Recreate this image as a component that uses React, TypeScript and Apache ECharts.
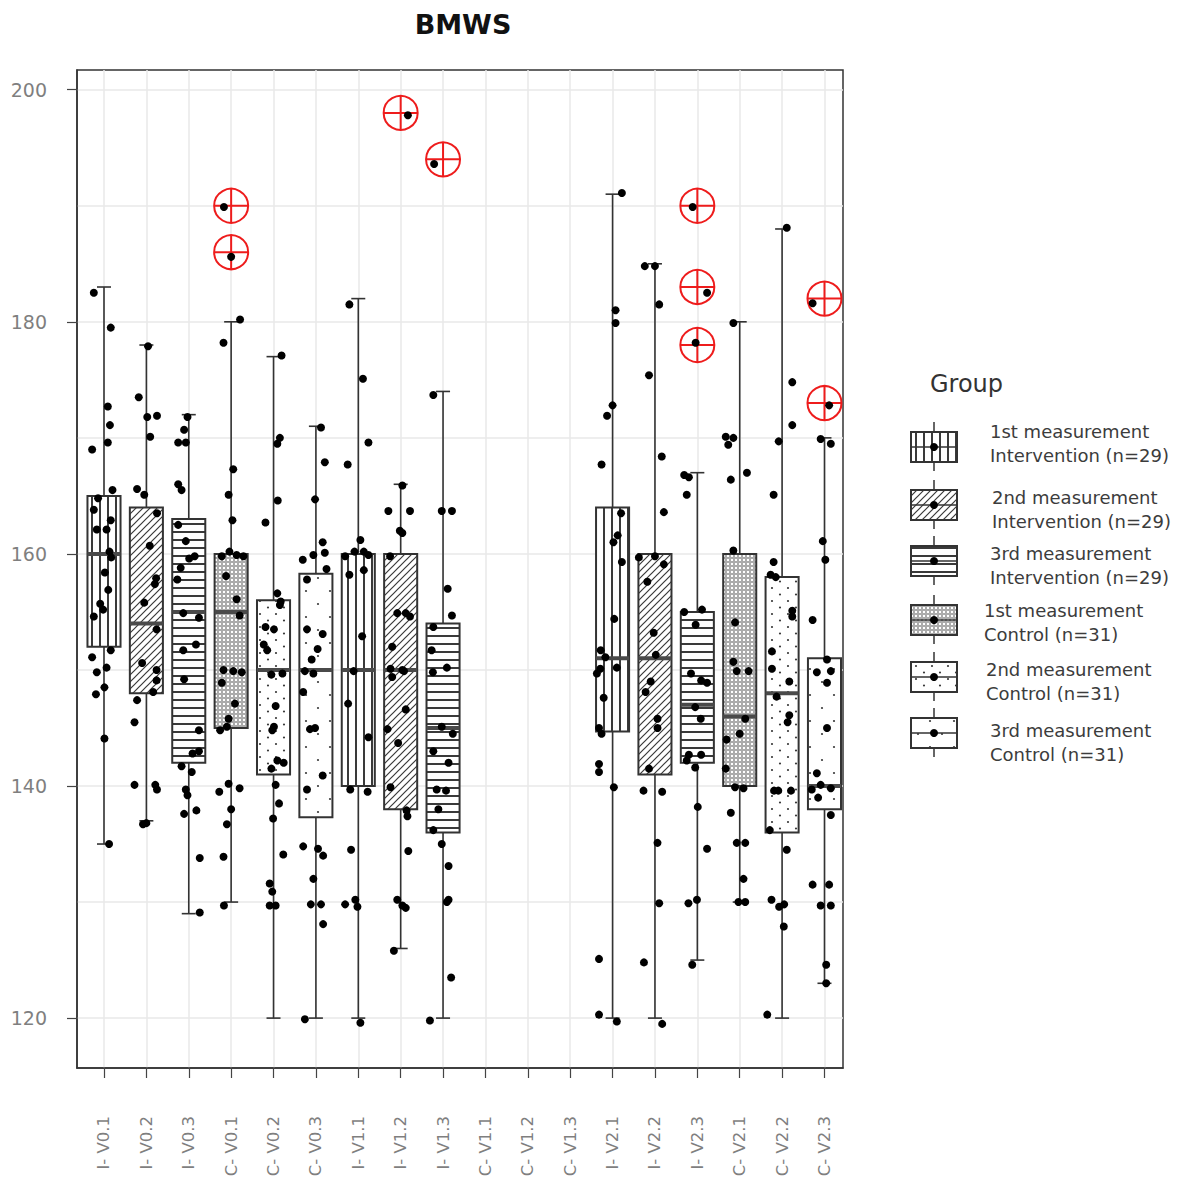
import React, { useEffect, useRef } from 'react';
import * as echarts from 'echarts';

const categories = [
  'I- V0.1', 'I- V0.2', 'I- V0.3', 'C- V0.1', 'C- V0.2', 'C- V0.3',
  'I- V1.1', 'I- V1.2', 'I- V1.3', 'C- V1.1', 'C- V1.2', 'C- V1.3',
  'I- V2.1', 'I- V2.2', 'I- V2.3', 'C- V2.1', 'C- V2.2', 'C- V2.3',
];

// [lower whisker, Q1, median, Q3, upper whisker]
const boxStats: (number[] | null)[] = [
  [135, 152, 160, 165, 183],
  [137, 148, 154, 164, 178],
  [129, 142, 155, 163, 172],
  [130, 145, 155, 160, 180],
  [120, 141, 150, 156, 177],
  [120, 137.3, 150, 158.3, 171],
  [120, 140, 150, 160, 182],
  [126, 138, 150, 160, 166],
  [120, 136, 145, 154, 174],
  null, null, null,
  [120, 144.7, 151, 164, 191],
  [120, 141, 151, 160, 185],
  [125, 142, 147, 155, 167],
  [130, 140, 146, 160, 180],
  [120, 136, 148, 158, 188],
  [123, 138, 140, 151, 170],
];

// individual observations per category: [value, horizontal jitter in category units]
const points: number[][][] = [
  [[182.5, -0.24], [179.5, 0.16], [172.7, 0.09], [171.1, 0.14], [169.6, 0.09], [169.0, -0.28], [165.5, 0.2], [164.8, -0.14], [163.8, -0.24], [162.9, 0.16], [162.1, -0.17], [162.1, 0.06], [160.2, 0.13], [159.7, 0.17], [158.4, 0.02], [156.9, 0.1], [155.7, -0.09], [155.2, -0.02], [154.6, -0.24], [151.7, 0.16], [151.1, -0.28], [150.2, 0.06], [149.8, -0.17], [147.9, -0.19], [148.5, 0.01], [144.1, 0.01], [135.0, 0.12]],
  [[177.9, 0.04], [173.5, -0.18], [171.8, 0.02], [171.9, 0.25], [170.1, 0.09], [165.6, -0.22], [165.1, -0.05], [163.5, 0.25], [160.7, 0.08], [157.9, 0.23], [157.4, 0.2], [155.8, -0.05], [153.5, 0.24], [150.6, -0.1], [150.0, 0.24], [149.1, 0.24], [148.1, 0.16], [147.4, -0.22], [145.5, -0.28], [140.1, -0.28], [140.1, 0.21], [139.7, 0.25], [136.7, -0.08], [136.8, 0.0]],
  [[171.8, -0.03], [170.7, -0.11], [169.6, -0.25], [169.6, -0.07], [166.0, -0.25], [165.5, -0.17], [162.5, -0.25], [161.1, -0.07], [159.6, 0.01], [159.8, 0.14], [158.8, -0.19], [157.8, -0.27], [154.9, -0.13], [154.5, 0.24], [151.7, -0.13], [152.2, 0.17], [149.2, -0.11], [144.8, 0.24], [142.8, 0.09], [143.0, 0.24], [141.7, -0.17], [141.2, 0.07], [139.7, -0.07], [139.2, -0.03], [137.6, -0.11], [137.9, 0.18], [133.8, 0.26], [129.1, 0.26]],
  [[189.9, -0.17], [185.6, 0.0], [180.2, 0.21], [178.2, -0.18], [167.3, 0.05], [165.1, -0.06], [162.9, 0.03], [160.2, -0.04], [159.9, 0.13], [159.8, -0.22], [159.8, 0.29], [158.1, -0.12], [156.1, 0.13], [154.7, 0.2], [150.0, -0.18], [149.9, 0.05], [149.8, 0.25], [148.9, -0.22], [147.1, 0.09], [145.8, -0.06], [144.8, -0.26], [145.1, -0.1], [140.2, -0.06], [139.5, -0.28], [139.8, 0.2], [138.0, 0.0], [136.7, -0.1], [133.9, -0.18], [129.7, -0.17]],
  [[177.1, 0.19], [170.0, 0.15], [169.5, 0.09], [164.6, 0.1], [162.7, -0.19], [156.6, 0.09], [155.9, 0.17], [155.6, 0.15], [153.7, -0.19], [153.5, 0.01], [152.2, -0.23], [151.7, -0.15], [149.6, -0.05], [149.7, 0.21], [146.9, 0.05], [145.1, 0.01], [144.8, -0.03], [142.2, 0.09], [142.0, 0.24], [141.5, -0.05], [140.1, 0.05], [138.5, 0.13], [137.2, -0.01], [134.1, 0.23], [131.6, -0.09], [130.9, -0.03], [129.7, -0.09], [129.7, 0.05]],
  [[170.9, 0.12], [167.9, 0.21], [164.7, -0.02], [161.0, 0.16], [160.1, 0.21], [159.9, -0.06], [159.5, -0.31], [158.7, 0.25], [157.8, -0.21], [153.5, -0.21], [153.1, 0.16], [151.8, 0.04], [150.9, -0.1], [149.9, -0.26], [149.7, -0.06], [148.1, -0.3], [144.9, -0.14], [145.0, -0.02], [140.9, 0.16], [139.7, -0.21], [134.8, -0.3], [134.6, 0.05], [134.0, 0.17], [132.0, -0.06], [129.8, -0.12], [129.8, 0.12], [128.1, 0.17], [119.9, -0.26]],
  [[181.5, -0.21], [175.1, 0.11], [169.6, 0.24], [167.7, -0.25], [161.2, 0.05], [160.2, -0.09], [160.2, 0.13], [159.8, -0.31], [159.9, 0.24], [158.2, -0.21], [158.6, 0.13], [152.9, 0.09], [149.9, -0.11], [147.1, -0.24], [144.2, 0.24], [139.7, -0.19], [139.5, 0.22], [134.5, -0.17], [129.8, -0.31], [130.2, -0.07], [129.6, -0.02], [119.6, 0.05]],
  [[197.8, 0.17], [165.9, 0.04], [163.7, -0.29], [163.7, 0.22], [162.0, -0.02], [161.8, 0.04], [159.8, -0.25], [154.9, -0.08], [154.9, 0.12], [154.6, 0.22], [152.0, -0.2], [150.1, -0.24], [150.0, 0.04], [149.9, 0.08], [149.4, -0.2], [146.6, 0.12], [144.9, -0.31], [143.7, -0.06], [139.9, -0.24], [137.9, 0.14], [137.4, 0.16], [134.4, 0.18], [130.2, -0.08], [129.7, 0.04], [129.5, 0.12], [125.8, -0.16]],
  [[193.6, -0.21], [173.7, -0.23], [163.7, -0.03], [163.7, 0.21], [157.0, 0.11], [154.7, 0.21], [153.7, -0.23], [151.7, -0.27], [149.8, -0.24], [150.2, 0.09], [145.1, -0.03], [144.5, 0.23], [143.0, -0.23], [142.0, 0.13], [139.7, -0.15], [139.6, 0.07], [138.0, -0.11], [136.2, -0.23], [135.0, -0.03], [133.1, 0.13], [130.2, 0.13], [130.0, 0.09], [123.5, 0.19], [119.8, -0.31]],
  [], [], [],
  [[191.1, 0.22], [181.0, 0.07], [179.9, 0.07], [172.8, 0.0], [171.9, -0.13], [167.7, -0.26], [163.5, 0.2], [161.6, 0.12], [161.0, 0.02], [159.3, 0.22], [154.4, 0.04], [151.7, -0.28], [151.1, -0.17], [149.7, -0.37], [150.1, -0.29], [150.2, 0.1], [147.6, -0.21], [145.0, -0.32], [144.5, -0.26], [141.9, -0.32], [141.2, -0.32], [139.9, 0.03], [125.1, -0.32], [120.3, -0.32], [119.7, 0.1]],
  [[184.8, -0.24], [184.8, 0.0], [181.5, 0.1], [175.4, -0.14], [168.4, 0.16], [163.6, 0.21], [159.7, -0.38], [159.8, 0.0], [159.1, 0.21], [157.6, -0.18], [153.2, -0.03], [151.3, 0.02], [149.0, -0.1], [148.1, -0.22], [145.8, 0.06], [145.0, 0.06], [141.5, -0.14], [139.6, -0.27], [139.5, 0.17], [135.1, 0.06], [129.9, 0.1], [124.8, -0.26], [119.5, 0.17]],
  [[189.9, -0.11], [182.5, 0.23], [178.2, -0.04], [166.8, -0.31], [166.6, -0.2], [165.1, -0.25], [155.0, -0.31], [155.2, 0.11], [153.9, -0.04], [149.7, -0.15], [149.1, 0.09], [148.9, 0.23], [146.8, -0.05], [145.8, 0.08], [142.7, -0.2], [142.7, 0.09], [142.2, -0.25], [141.6, -0.05], [138.2, 0.01], [134.6, 0.23], [129.9, -0.21], [130.2, -0.01], [124.6, -0.12]],
  [[179.9, -0.15], [170.1, -0.33], [170.0, -0.15], [169.4, -0.27], [167.0, 0.17], [166.4, -0.21], [160.3, -0.15], [154.1, -0.11], [150.7, -0.15], [149.9, -0.07], [149.9, 0.21], [145.8, 0.13], [144.5, 0.0], [144.0, -0.31], [141.5, -0.33], [139.9, -0.11], [139.8, 0.09], [137.7, -0.21], [135.1, -0.07], [135.1, 0.13], [132.0, 0.09], [130.0, -0.03], [130.0, 0.13]],
  [[188.1, 0.11], [174.8, 0.24], [171.1, 0.24], [169.7, -0.08], [165.1, -0.2], [159.3, -0.2], [158.2, -0.27], [158.0, -0.15], [155.1, 0.24], [154.6, 0.24], [151.6, -0.24], [150.1, -0.24], [149.0, 0.17], [147.7, -0.13], [146.1, 0.17], [145.5, 0.13], [139.6, -0.19], [139.6, -0.09], [139.6, 0.21], [136.2, -0.29], [134.5, 0.11], [130.2, -0.25], [129.6, -0.07], [129.8, 0.05], [127.9, 0.04], [120.3, -0.35]],
  [[181.6, -0.28], [172.8, 0.11], [169.9, -0.09], [169.5, 0.15], [161.1, -0.04], [159.5, 0.02], [154.3, -0.28], [150.9, 0.06], [149.8, -0.18], [149.9, 0.15], [148.9, 0.06], [145.0, 0.06], [141.1, -0.18], [140.1, -0.09], [139.7, -0.3], [139.8, 0.15], [139.0, -0.15], [137.5, 0.15], [131.5, -0.28], [131.5, 0.11], [129.7, -0.09], [129.7, 0.15], [124.6, 0.04], [123.0, 0.04]],
];

// outliers flagged with red crosshair circles: [category index, value]
const outliers = [
  [3, 190], [3, 186], [7, 198], [8, 194],
  [14, 190], [14, 183], [14, 178], [17, 182], [17, 173],
];

const yTickValues = [120, 140, 160, 180, 200];
const gridYValues = [120, 130, 140, 150, 160, 170, 180, 190, 200];

const legendTitle = 'Group';
const legendLabels = [
  '1st measurement\nIntervention (n=29)',
  '2nd measurement\nIntervention (n=29)',
  '3rd measurement\nIntervention (n=29)',
  '1st measurement\nControl (n=31)',
  '2nd measurement\nControl (n=31)',
  '3rd measurement\nControl (n=31)',
];

const FONT = 'DejaVu Sans';

function makePattern(kind: number) {
  const sizes = [[8, 8], [7, 7], [8, 8], [4, 4], [16, 13], [24, 26]];
  const [w, h] = sizes[kind];
  const c = document.createElement('canvas');
  c.width = w;
  c.height = h;
  const ctx = c.getContext('2d')!;
  ctx.fillStyle = '#ffffff';
  ctx.fillRect(0, 0, w, h);
  ctx.fillStyle = '#3a3a3a';
  ctx.strokeStyle = '#3a3a3a';
  if (kind === 0) {
    ctx.fillRect(3, 0, 2, h);
  } else if (kind === 1) {
    ctx.lineWidth = 1.2;
    ctx.beginPath();
    ctx.moveTo(-1, h + 1); ctx.lineTo(w + 1, -1);
    ctx.moveTo(-1, 1); ctx.lineTo(1, -1);
    ctx.moveTo(w - 1, h + 1); ctx.lineTo(w + 1, h - 1);
    ctx.stroke();
  } else if (kind === 2) {
    ctx.fillRect(0, 3, w, 2);
  } else if (kind === 3) {
    ctx.lineWidth = 0.8;
    ctx.strokeStyle = '#555';
    ctx.beginPath();
    ctx.arc(2, 2, 1.3, 0, Math.PI * 2);
    ctx.stroke();
  } else if (kind === 4) {
    ctx.beginPath();
    ctx.arc(4, 3, 1.1, 0, Math.PI * 2);
    ctx.arc(12, 9.5, 1.1, 0, Math.PI * 2);
    ctx.fill();
  } else {
    ctx.beginPath();
    ctx.arc(6, 6, 1.1, 0, Math.PI * 2);
    ctx.fill();
    ctx.beginPath();
    ctx.arc(18, 19, 1.1, 0, Math.PI * 2);
    ctx.fill();
  }
  return { image: c.toDataURL(), repeat: 'repeat', imageWidth: w, imageHeight: h };
}

export default function App() {
  const ref = useRef<HTMLDivElement>(null);

  useEffect(() => {
    const chart = echarts.init(ref.current!, null, { renderer: 'svg' });
    const patterns = [0, 1, 2, 3, 4, 5].map(makePattern);

    const boxData: number[][] = [];
    boxStats.forEach((b, i) => {
      if (b) boxData.push([i, b[0], b[1], b[2], b[3], b[4], i % 6]);
    });
    const scatterData: number[][] = [];
    points.forEach((col, i) => col.forEach(([v, j]) => scatterData.push([i + j, v])));
    const catIdx = categories.map((_, i) => i);

    const lineColor = '#333';

    const legendItems: any[] = [];
    const iconCenters = [447, 505, 561, 620, 677, 733];
    const textX = [990, 992, 990, 984, 986, 990];
    const textY = [443, 509, 565, 622, 681, 742];
    legendItems.push({
      type: 'text', x: 930, y: 384,
      style: { text: legendTitle, font: `24px "${FONT}"`, fill: '#333', textVerticalAlign: 'middle' },
    });
    legendLabels.forEach((label, k) => {
      const cy = iconCenters[k];
      legendItems.push(
        { type: 'line', shape: { x1: 934, y1: cy - 25, x2: 934, y2: cy + 24 }, style: { stroke: lineColor, lineWidth: 1.5 } },
        { type: 'rect', shape: { x: 911, y: cy - 15, width: 46, height: 30 }, style: { fill: patterns[k], stroke: lineColor, lineWidth: 2 } },
        { type: 'line', shape: { x1: 911, y1: cy, x2: 957, y2: cy }, style: { stroke: lineColor, lineWidth: 1.5 } },
        { type: 'circle', shape: { cx: 934, cy, r: 4 }, style: { fill: '#000' } },
        {
          type: 'text', x: textX[k], y: textY[k],
          style: { text: label, font: `18px "${FONT}"`, fill: '#3c3c3c', lineHeight: 24, textVerticalAlign: 'middle' },
        },
      );
    });

    const option: any = {
      animation: false,
      backgroundColor: '#fff',
      textStyle: { fontFamily: FONT },
      grid: {
        left: 77, top: 70, width: 766, height: 998,
        outerBoundsMode: 'none', containLabel: false,
        show: true, borderColor: '#333', borderWidth: 1.5, backgroundColor: 'transparent',
      },
      xAxis: {
        type: 'value', min: -0.637, max: 17.437,
        axisLine: { show: true, onZero: false, lineStyle: { color: '#333', width: 1.5 } },
        axisTick: { show: true, customValues: catIdx, length: 10, lineStyle: { color: '#444', width: 1.2 } },
        axisLabel: {
          show: true, customValues: catIdx, rotate: 90, margin: 48,
          formatter: (v: number) => categories[Math.round(v)] ?? '',
          color: '#7f7f7f', fontSize: 16.5, fontFamily: FONT,
        },
        splitLine: { show: false },
      },
      yAxis: {
        type: 'value', min: 115.7, max: 201.7,
        axisLine: { show: true, onZero: false, lineStyle: { color: '#333', width: 1.5 } },
        axisTick: { show: true, customValues: yTickValues, length: 10, lineStyle: { color: '#444', width: 1.2 } },
        axisLabel: { show: true, customValues: yTickValues, margin: 30, color: '#7f7f7f', fontSize: 19, fontFamily: FONT },
        splitLine: { show: false },
      },
      graphic: [
        {
          type: 'text', x: 463, y: 24,
          style: { text: 'BMWS', font: `bold 27px "${FONT}"`, fill: '#111', textAlign: 'center', textVerticalAlign: 'middle' },
        },
        ...legendItems,
      ],
      series: [
        {
          type: 'scatter', data: [], z: 0, silent: true,
          markLine: {
            z: 0,
            silent: true, symbol: ['none', 'none'], label: { show: false },
            lineStyle: { color: '#e8e8e8', width: 1.5, type: 'solid' },
            emphasis: { disabled: true },
            data: [
              ...gridYValues.map((v) => ({ yAxis: v })),
              ...catIdx.map((i) => ({ xAxis: i })),
            ],
          },
        },
        {
          type: 'custom', z: 2, silent: true,
          data: boxData,
          encode: { x: 0, y: [1, 2, 3, 4, 5] },
          renderItem: (_p: any, api: any) => {
            const x = api.value(0);
            const pLow = api.coord([x, api.value(1)]);
            const pQ1 = api.coord([x, api.value(2)]);
            const pMed = api.coord([x, api.value(3)]);
            const pQ3 = api.coord([x, api.value(4)]);
            const pHigh = api.coord([x, api.value(5)]);
            const pat = patterns[api.value(6)];
            const bw = api.size([1, 0])[0] * 0.78;
            const cx = pLow[0];
            const ws = { stroke: lineColor, lineWidth: 1.6 };
            return {
              type: 'group',
              children: [
                { type: 'line', shape: { x1: cx, y1: pHigh[1], x2: cx, y2: pQ3[1] }, style: ws },
                { type: 'line', shape: { x1: cx, y1: pQ1[1], x2: cx, y2: pLow[1] }, style: ws },
                { type: 'line', shape: { x1: cx - 7, y1: pHigh[1], x2: cx + 7, y2: pHigh[1] }, style: ws },
                { type: 'line', shape: { x1: cx - 7, y1: pLow[1], x2: cx + 7, y2: pLow[1] }, style: ws },
                { type: 'rect', shape: { x: cx - bw / 2, y: pQ3[1], width: bw, height: pQ1[1] - pQ3[1] }, style: { fill: pat, stroke: lineColor, lineWidth: 2 } },
                { type: 'line', shape: { x1: cx - bw / 2, y1: pMed[1], x2: cx + bw / 2, y2: pMed[1] }, style: { stroke: '#4a4a4a', lineWidth: 4 } },
              ],
            };
          },
        },
        {
          type: 'custom', z: 3, silent: true,
          data: outliers,
          encode: { x: 0, y: 1 },
          renderItem: (_p: any, api: any) => {
            const c = api.coord([api.value(0), api.value(1)]);
            const r = 17;
            const st = { stroke: '#ee1c1c', lineWidth: 2, fill: null };
            return {
              type: 'group',
              children: [
                { type: 'circle', shape: { cx: c[0], cy: c[1], r }, style: { stroke: '#ee1c1c', lineWidth: 2, fill: 'none' } },
                { type: 'line', shape: { x1: c[0] - r, y1: c[1], x2: c[0] + r, y2: c[1] }, style: st },
                { type: 'line', shape: { x1: c[0], y1: c[1] - r, x2: c[0], y2: c[1] + r }, style: st },
              ],
            };
          },
        },
        {
          type: 'scatter', z: 4, silent: true,
          data: scatterData,
          symbol: 'circle', symbolSize: 8,
          itemStyle: { color: '#000', opacity: 1 },
        },
      ],
    };

    chart.setOption(option);
    return () => chart.dispose();
  }, []);

  return (
    <div
      ref={ref}
      style={{ position: 'absolute', left: 0, top: 0, width: 1196, height: 1180, background: '#fff' }}
    />
  );
}
